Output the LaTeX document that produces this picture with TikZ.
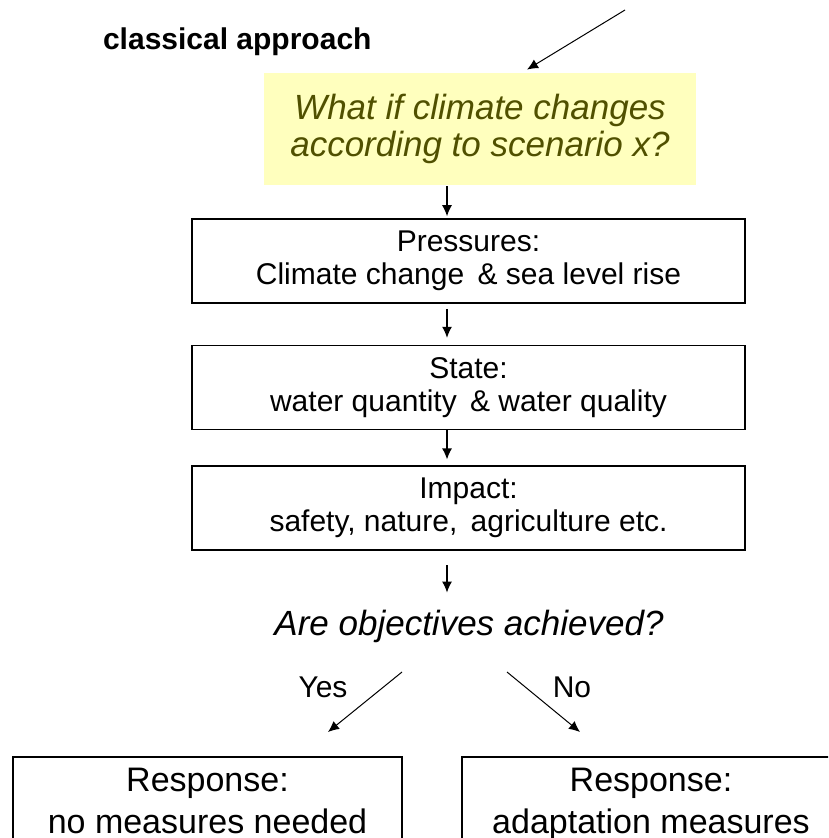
\documentclass[tikz,border=0pt]{standalone}
\usepackage{fontspec}
\setmainfont{Liberation Sans}
\usetikzlibrary{positioning,arrows.meta}

\definecolor{notepad}{RGB}{255,255,190}
\definecolor{noteink}{RGB}{80,80,0}

\begin{document}
\begin{tikzpicture}[x=0.5pt,y=-0.5pt,
  box/.style={draw, line width=0.8pt, align=center, minimum width=276.5pt, minimum height=42pt, inner sep=0pt, font=\fontsize{15}{16.5}\selectfont},
  resp/.style={draw, line width=0.8pt, align=center, anchor=north, inner xsep=0pt, inner ysep=5.5pt, font=\fontsize{17}{21}\selectfont},
  arr/.style={-{Latex[length=5.5pt,width=5pt]}, line width=0.6pt},
  thin arr/.style={-{Latex[length=5.5pt,width=5pt]}, line width=0.5pt},
  lbl/.style={font=\fontsize{15}{18}\selectfont}]
\useasboundingbox (0,0) rectangle (828,838);
\clip (0,0) rectangle (828,838);

\node[anchor=base west, font=\fontsize{15}{18}\selectfont\bfseries] (title) at (96,50) {classical approach};
\node[fill=notepad, text=noteink, align=center, minimum width=216pt, minimum height=56pt, inner sep=0pt, font=\fontsize{17.5}{18.5}\selectfont\itshape] (what) at (480,129) {What if climate changes\\according to scenario x?};
\coordinate (ext) at (625,10);
\coordinate (ax) at (447,0);

% DPSIR chain
\node[box] (pres) at (468.5,261) {Pressures:\\Climate change \,\& sea level rise};
\node[box, below=20.5pt of pres] (state) {State:\\water quantity \,\& water quality};
\node[box, below=17.5pt of state] (impact) {Impact:\\safety, nature, \,agriculture etc.};
\node[anchor=base, font=\fontsize{17.5}{21}\selectfont\itshape] (ask) at (469,635) {Are objectives achieved?};

\draw[thin arr] (ext) -- ([xshift=23.5pt,yshift=1.5pt]what.north);
\draw[arr, shorten <=0.5pt, shorten >=1pt] (what.south -| ax) -- (pres.north -| ax);
\draw[arr, shorten <=2.5pt, shorten >=3.5pt] (pres.south -| ax) -- (state.north -| ax);
\draw[arr, shorten >=3pt] (state.south -| ax) -- (impact.north -| ax);
\draw[arr, shorten <=7pt, shorten >=5pt] (impact.south -| ax) -- (ask.north -| ax);

% responses (boxes run off the page at the bottom)
\node[resp, minimum width=194.5pt] (nomeas) at (207.5,756) {Response:\\no measures needed\\\strut};
\node[resp, minimum width=189pt] (adapt) at (651,756) {Response:\\adaptation measures\\\strut};
\coordinate (yesfrom) at (402,672);
\coordinate (yesto) at (328,732);
\coordinate (nofrom) at (507,672);
\coordinate (noto) at (580,732);
\draw[thin arr] (yesfrom) -- (yesto);
\draw[thin arr] (nofrom) -- (noto);
\node[lbl] (yes) at (323,687) {Yes};
\node[lbl] (no) at (572,687) {No};
\end{tikzpicture}
\end{document}
